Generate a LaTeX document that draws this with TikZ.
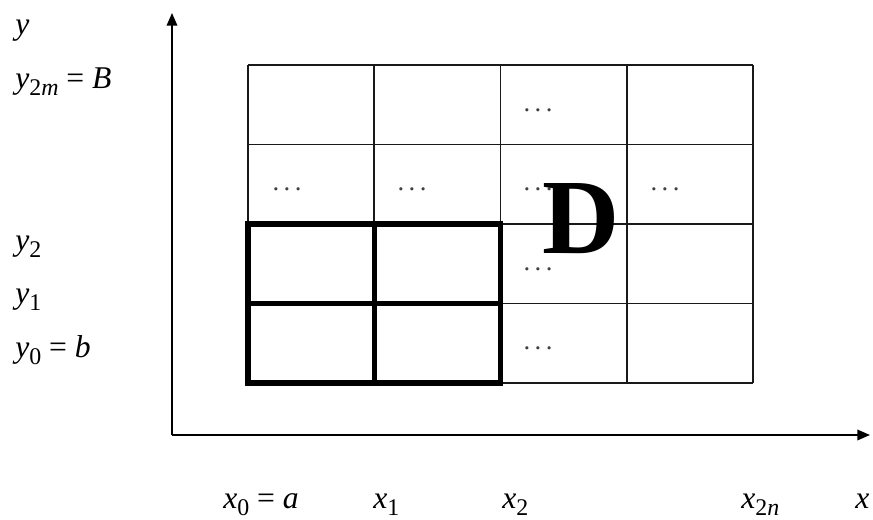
\documentclass[tikz,border=0pt]{standalone}
\usepackage{fontspec}
\setmainfont{Liberation Serif}
\usetikzlibrary{arrows.meta, positioning}
\newcommand{\ivar}[2]{\textit{#1}\raisebox{-5pt}{\fontsize{17}{17}\selectfont #2}}
\tikzset{
  gridline/.style={draw=black!90, line width=1.3pt},
  boldcell/.style={draw=black, line width=3.6pt},
  axis/.style={-{Triangle[length=9pt, width=7.5pt]}, line width=1.2pt},
  lbl/.style={font=\fontsize{22.5}{24}\selectfont, inner sep=0pt, anchor=base west},
  gapdots/.style={font=\fontsize{19}{19}\selectfont, text=black!75, inner sep=0pt},
  region/.style={font=\fontsize{76}{76}\selectfont\bfseries, inner sep=0pt, anchor=base}
}
\begin{document}
\begin{tikzpicture}[x=0.025cm, y=-0.025cm]
  \useasboundingbox (0,0) rectangle (873,519);
  % Axes
  \coordinate (O) at (172,435);
  \coordinate (ytip) at (172,13);
  \coordinate (xtip) at (870,435);
  \draw[axis] (O) -- (ytip);
  \draw[axis] (O) -- (xtip);

  % Mesh over D
  \foreach \x in {248, 374.25, 500.5, 626.75, 753} {
    \draw[gridline] (\x,65) -- (\x,383);
  }
  \foreach \y in {65, 144.5, 224, 303.5, 383} {
    \draw[gridline] (248,\y) -- (753,\y);
  }

  % Highlighted cells
  \draw[boldcell] (248,224) rectangle (500.5,383);
  \draw[boldcell] (374.25,224) -- (374.25,383);
  \draw[boldcell] (248,303.5) -- (500.5,303.5);

  % Dots in cells
  \foreach \x/\y [count=\i] in {538/110, 287/189, 412/189, 538/189, 665/189, 538/269, 538/348} {
    \node[gapdots] (dots\i) at (\x,\y) {.\,.\,.};
  }

  % Region label
  \node[region] (D) at (581.5,253) {D};

  % Labels on the y side
  \node[lbl] (ylab)  at (15,35)  {\textit{y}};
  \node[lbl] (y2m)   at (15,88)  {\ivar{y}{2\textit{m}} = \textit{B}};
  \node[lbl] (ytwo)  at (15,250) {\ivar{y}{2}};
  \node[lbl] (yone)  at (15,303) {\ivar{y}{1}};
  \node[lbl] (yzero) at (15,357) {\ivar{y}{0} = \textit{b}};

  % Labels on the x side
  \node[lbl] (xzero) at (223,508) {\ivar{x}{0} = \textit{a}};
  \node[lbl] (xone)  at (373,508) {\ivar{x}{1}};
  \node[lbl] (xtwo)  at (502,508) {\ivar{x}{2}};
  \node[lbl] (x2n)   at (741,508) {\ivar{x}{2\textit{n}}};
  \node[lbl] (xlab)  at (855,508) {\textit{x}};
\end{tikzpicture}
\end{document}
